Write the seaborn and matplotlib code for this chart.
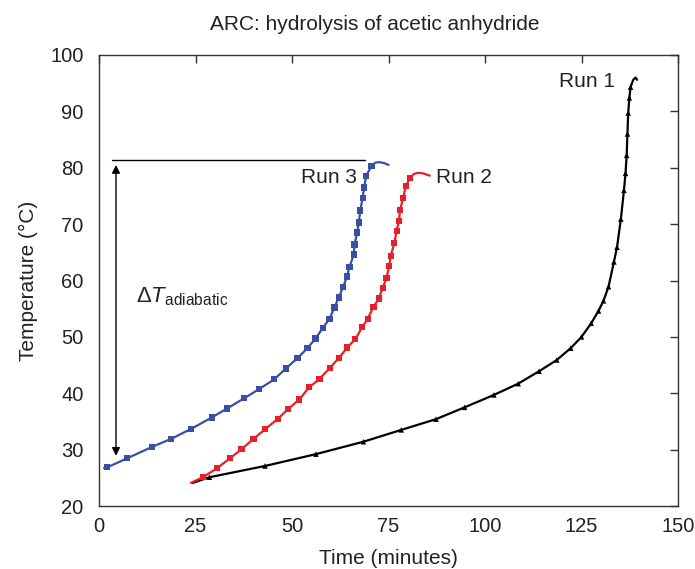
import matplotlib
matplotlib.use("Agg")
import matplotlib.pyplot as plt
import seaborn as sns
import pandas as pd

# ---- data ----
run1_x = [28.6, 43.0, 56.2, 68.5, 78.3, 87.3, 94.7, 102.3, 108.6, 114.0, 118.6, 122.2, 125.0,
          127.5, 129.4, 130.7, 132.0, 133.4, 134.2, 135.2, 136.0, 136.4, 136.7, 136.9, 137.1,
          137.4, 137.7]
run1_y = [25.1, 27.1, 29.2, 31.4, 33.5, 35.4, 37.5, 39.7, 41.7, 43.9, 45.9, 48.0, 50.0,
          52.4, 54.6, 56.4, 58.9, 63.3, 65.9, 70.9, 76.0, 79.0, 82.2, 86.0, 89.7,
          92.4, 94.3]
run1_start = [(24.3, 24.1)]
run1_end = [(138.4, 95.6), (139.0, 96.0), (139.4, 95.6)]

run2_x = [26.9, 30.6, 34.0, 36.9, 40.0, 43.1, 46.4, 49.0, 51.9, 54.5, 57.1, 59.8, 62.1,
          64.3, 66.4, 68.2, 69.6, 71.1, 72.5, 73.5, 74.5, 75.2, 75.6, 76.5, 77.1, 77.7,
          78.0, 78.8, 79.5, 80.6]
run2_y = [25.1, 26.7, 28.5, 30.05, 31.9, 33.65, 35.5, 37.2, 38.9, 41.1, 42.5, 44.5, 46.2,
          48.1, 49.6, 51.7, 53.2, 55.3, 56.8, 58.7, 60.5, 62.6, 64.4, 66.6, 68.8, 70.5,
          72.5, 74.7, 76.8, 78.2]
run2_start = [(23.8, 24.1)]
run2_end = [(81.6, 78.9), (82.6, 79.1), (84.0, 79.0), (85.7, 78.6)]

run3_x = [2.15, 7.3, 13.8, 18.65, 23.8, 29.2, 33.2, 37.6, 41.5, 45.4, 48.4, 51.4, 54.0,
          56.1, 58.0, 59.7, 61.0, 62.1, 63.3, 64.2, 64.9, 66.0, 66.2, 66.9, 67.3, 67.7,
          68.3, 68.7, 69.2, 70.6]
run3_y = [26.86, 28.46, 30.5, 31.9, 33.65, 35.7, 37.3, 39.1, 40.75, 42.46, 44.4, 46.2, 48.0,
          49.7, 51.6, 53.2, 55.2, 57.0, 58.9, 60.7, 62.4, 64.6, 66.4, 68.5, 70.3, 72.4,
          74.7, 76.5, 78.6, 80.3]
run3_start = [(1.3, 26.7)]
run3_end = [(71.6, 80.9), (72.6, 81.0), (74.0, 80.8), (75.0, 80.5)]

x_ticks = [0, 25, 50, 75, 100, 125, 150]
y_ticks = [20, 30, 40, 50, 60, 70, 80, 90, 100]

title = "ARC: hydrolysis of acetic anhydride"
xlabel = "Time (minutes)"
ylabel = "Temperature (\u00b0C)"

BLUE = "#3a4ea3"
RED = "#e5202b"
BLACK = "#000000"
TXT = "#222222"

sns.set_theme(style="white")
plt.rcParams["font.family"] = ["Liberation Sans", "DejaVu Sans"]
plt.rcParams["mathtext.fontset"] = "custom"
plt.rcParams["mathtext.rm"] = "Liberation Sans"
plt.rcParams["mathtext.it"] = "Liberation Sans:italic"

fig = plt.figure(figsize=(6.95, 5.69), dpi=100)
ax = fig.add_axes([99 / 695, 1 - 506 / 569, (678 - 99) / 695, (506 - 55) / 569])


def line_df(start, xs, ys, end):
    pts = list(start) + list(zip(xs, ys)) + list(end)
    return pd.DataFrame({"x": [p[0] for p in pts], "y": [p[1] for p in pts]})


for start, xs, ys, end, col, mk, ms in [
    (run1_start, run1_x, run1_y, run1_end, BLACK, "^", 16),
    (run2_start, run2_x, run2_y, run2_end, RED, "s", 20),
    (run3_start, run3_x, run3_y, run3_end, BLUE, "s", 20),
]:
    d = line_df(start, xs, ys, end)
    sns.lineplot(data=d, x="x", y="y", sort=False, estimator=None, color=col,
                 linewidth=1.6, ax=ax, legend=False)
    sns.scatterplot(x=xs, y=ys, marker=mk, s=ms, color=col, edgecolor="none",
                    ax=ax, legend=False, zorder=3)

# adiabatic annotation
ax.plot([3.4, 68.8], [81.3, 81.3], color="black", linewidth=1.0)
ax.annotate("", xy=(4.4, 80.5), xytext=(4.4, 28.9),
            arrowprops=dict(arrowstyle="<|-|>", color="black", linewidth=1.0,
                            mutation_scale=12, shrinkA=0, shrinkB=0))
ax.text(9.6, 57.2, r"$\Delta T_{\mathrm{adiabatic}}$", fontsize=16, color=TXT,
        va="center", ha="left")

ax.text(66.8, 78.3, "Run 3", fontsize=15, color=TXT, ha="right", va="center")
ax.text(87.4, 78.3, "Run 2", fontsize=15, color=TXT, ha="left", va="center")
ax.text(119.3, 95.3, "Run 1", fontsize=15, color=TXT, ha="left", va="center")

ax.set_xlim(0, 150)
ax.set_ylim(20, 100)
ax.set_xticks(x_ticks)
ax.set_yticks(y_ticks)
ax.set_xticklabels([str(t) for t in x_ticks])
ax.set_yticklabels([str(t) for t in y_ticks])
ax.tick_params(direction="in", length=6, width=1, top=True, right=True,
               labelsize=14.5, colors="#333333", labelcolor=TXT)
ax.tick_params(axis="y", pad=11)
ax.tick_params(axis="x", pad=8)
for sp in ax.spines.values():
    sp.set_color("#333333")
    sp.set_linewidth(1.0)

ax.set_xlabel(xlabel, fontsize=15, color=TXT, labelpad=9)
ax.set_ylabel(ylabel, fontsize=15, color=TXT, labelpad=9)
ax.set_title(title, fontsize=15, color=TXT, pad=18, x=(374.5 - 99) / 579)

fig.savefig("out.png", dpi=100)
